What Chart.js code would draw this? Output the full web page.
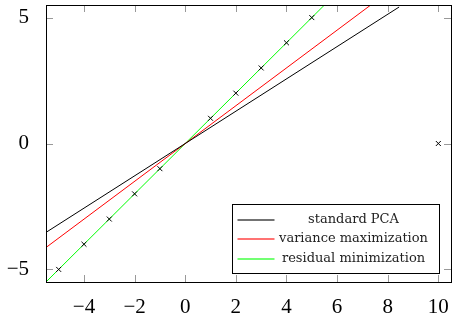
<!DOCTYPE html>
<html>
<head>
<meta charset="utf-8">
<script src="https://cdn.jsdelivr.net/npm/chart.js@4.4.1/dist/chart.umd.min.js"></script>
<style>
html,body{margin:0;padding:0;background:#fff;}
canvas{display:block;}
</style>
</head>
<body>
<canvas id="c" width="460" height="317"></canvas>
<script>
// Data points (crosses)
const pointsX = [-5, -4, -3, -2, -1, 1, 2, 3, 4, 5, 10];
const pointsY = [-5, -4, -3, -2, -1, 1, 2, 3, 4, 5, 0];
// Fitted lines (endpoints)
const pcaLineX = [-5.5, 8.45];
const pcaLineY = [-3.53, 5.42];
const varLineX = [-5.5, 7.33];
const varLineY = [-4.13, 5.5];
const resLineX = [-5.5, 5.5];
const resLineY = [-5.5, 5.5];
// Labels
const seriesLabels = ['standard PCA', 'variance maximization', 'residual minimization'];
const seriesColors = ['#000000', '#ff0000', '#00ff00'];
// Ticks
const xTicks = [-4, -2, 0, 2, 4, 6, 8, 10];
const yTicks = [-5, 0, 5];
const xRange = [-5.5, 10.5];
const yRange = [-5.5, 5.5];

const toXY = (xs, ys) => xs.map((x, i) => ({x: x, y: ys[i]}));
const fmt = v => (v < 0 ? '\u2212' + Math.abs(v) : String(v));

const framePlugin = {
  id: 'frame',
  afterDraw(chart) {
    const ctx = chart.ctx;
    const a = chart.chartArea;
    const xs = chart.scales.x, ys = chart.scales.y;
    ctx.save();
    // inward ticks
    ctx.strokeStyle = 'rgba(0,0,0,0.4)';
    ctx.lineWidth = 1;
    const tl = 7;
    ctx.beginPath();
    xTicks.forEach(t => {
      const px = Math.round(xs.getPixelForValue(t)) + 0.5;
      ctx.moveTo(px, a.bottom); ctx.lineTo(px, a.bottom - tl);
      ctx.moveTo(px, a.top); ctx.lineTo(px, a.top + tl);
    });
    yTicks.forEach(t => {
      const py = Math.round(ys.getPixelForValue(t)) + 0.5;
      ctx.moveTo(a.left, py); ctx.lineTo(a.left + tl, py);
      ctx.moveTo(a.right, py); ctx.lineTo(a.right - tl, py);
    });
    ctx.stroke();
    // frame
    ctx.strokeStyle = '#000';
    ctx.lineWidth = 1;
    ctx.strokeRect(Math.round(a.left) + 0.5, Math.round(a.top) + 0.5,
                   Math.round(a.right - a.left), Math.round(a.bottom - a.top));
    // legend
    const bw = 207, bh = 69;
    const bx = Math.round(a.right - 12 - bw) + 0.5;
    const by = Math.round(a.bottom - 9 - bh) + 0.5;
    ctx.fillStyle = '#fff';
    ctx.fillRect(bx, by, bw, bh);
    ctx.strokeStyle = '#000';
    ctx.strokeRect(bx, by, bw, bh);
    ctx.font = '13px "DejaVu Serif"';
    ctx.textAlign = 'center';
    ctx.textBaseline = 'middle';
    seriesLabels.forEach((lab, i) => {
      const ry = Math.round(by + 15 + i * 19.7);
      ctx.strokeStyle = seriesColors[i];
      ctx.globalAlpha = 0.55;
      ctx.beginPath();
      ctx.moveTo(bx + 5, ry); ctx.lineTo(bx + 42, ry);
      ctx.lineWidth = 2;
      ctx.stroke();
      ctx.globalAlpha = 1;
      ctx.fillStyle = '#222';
      ctx.fillText(lab, bx + 121, ry);
    });
    ctx.restore();
  }
};

new Chart(document.getElementById('c'), {
  type: 'scatter',
  data: {
    datasets: [
      {
        label: 'points',
        data: toXY(pointsX, pointsY),
        pointStyle: 'crossRot',
        pointRadius: 3.5,
        pointBorderWidth: 1,
        pointBorderColor: '#000',
        pointBackgroundColor: '#000',
        showLine: false
      },
      {
        label: seriesLabels[0],
        data: toXY(pcaLineX, pcaLineY),
        showLine: true, pointRadius: 0, borderWidth: 1,
        borderColor: seriesColors[0]
      },
      {
        label: seriesLabels[1],
        data: toXY(varLineX, varLineY),
        showLine: true, pointRadius: 0, borderWidth: 1,
        borderColor: seriesColors[1]
      },
      {
        label: seriesLabels[2],
        data: toXY(resLineX, resLineY),
        showLine: true, pointRadius: 0, borderWidth: 1,
        borderColor: seriesColors[2]
      }
    ]
  },
  options: {
    responsive: false,
    animation: false,
    devicePixelRatio: 1,
    layout: { padding: { top: 4, right: 9, left: 0, bottom: 0 } },
    plugins: { legend: { display: false }, tooltip: { enabled: false } },
    scales: {
      x: {
        type: 'linear', min: xRange[0], max: xRange[1],
        grid: { display: false }, border: { display: false },
        afterBuildTicks: s => { s.ticks = xTicks.map(v => ({value: v})); },
        afterFit: s => { s.height = 35; s.paddingLeft = 0; s.paddingRight = 0; },
        ticks: {
          color: '#000', padding: 5, maxRotation: 0, autoSkip: false,
          font: { family: '"Liberation Serif"', size: 21 },
          callback: v => fmt(v)
        }
      },
      y: {
        type: 'linear', min: yRange[0], max: yRange[1],
        grid: { display: false }, border: { display: false },
        afterBuildTicks: s => { s.ticks = yTicks.map(v => ({value: v})); },
        afterFit: s => { s.width = 46; s.paddingTop = 0; s.paddingBottom = 0; },
        ticks: {
          color: '#000', padding: 9, autoSkip: false,
          font: { family: '"Liberation Serif"', size: 21 },
          callback: v => fmt(v)
        }
      }
    }
  },
  plugins: [framePlugin]
});
</script>
</body>
</html>
